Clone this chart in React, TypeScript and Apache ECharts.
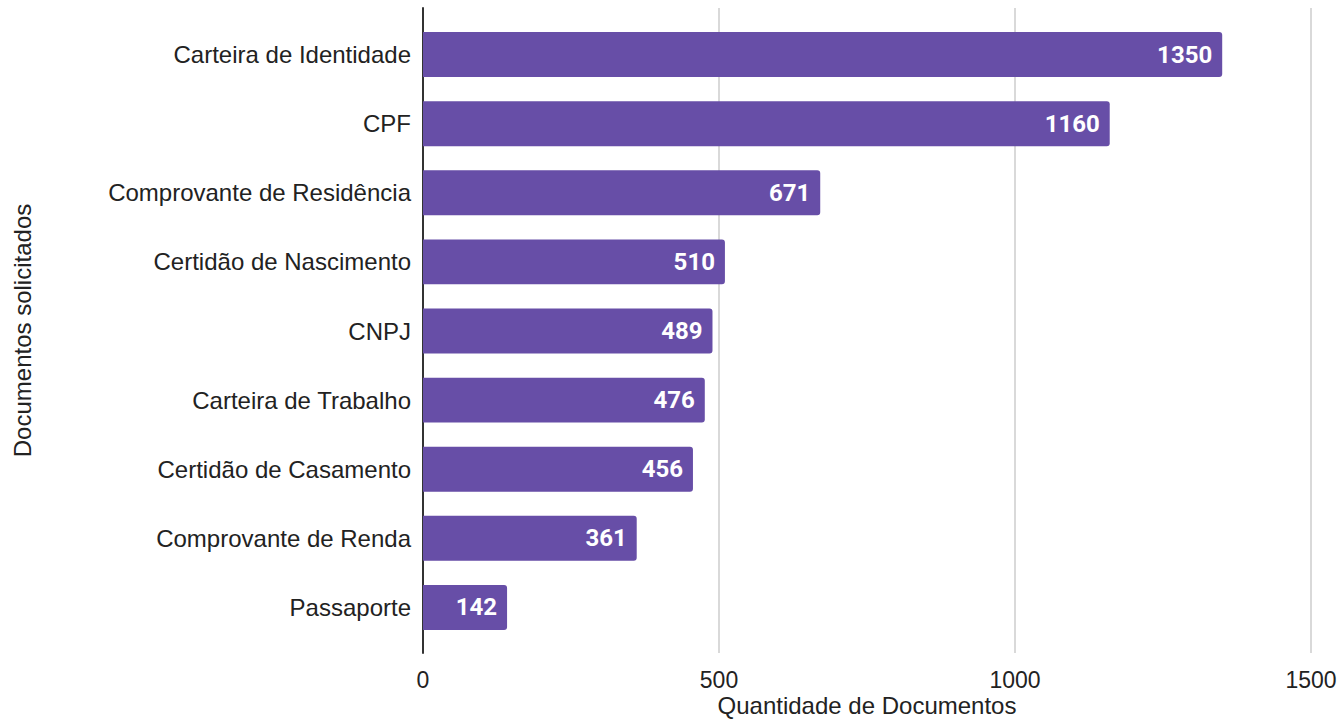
import React, { useEffect, useRef } from "react";
import * as echarts from "echarts";

const categories = [
  "Carteira de Identidade",
  "CPF",
  "Comprovante de Residência",
  "Certidão de Nascimento",
  "CNPJ",
  "Carteira de Trabalho",
  "Certidão de Casamento",
  "Comprovante de Renda",
  "Passaporte",
];
const values = [1350, 1160, 671, 510, 489, 476, 456, 361, 142];
const xTicks = { min: 0, max: 1500, interval: 500 };
const xAxisTitle = "Quantidade de Documentos";
const yAxisTitle = "Documentos solicitados";

export default function App() {
  const ref = useRef<HTMLDivElement>(null);
  useEffect(() => {
    if (!ref.current) return;
    const chart = echarts.init(ref.current, null, { renderer: "svg" });
    const font = "'Liberation Sans', Arial, sans-serif";
    chart.setOption({
      animation: false,
      grid: [
        { left: 423, right: 29, top: 8, bottom: 66, outerBoundsMode: "none", containLabel: false },
        { left: 423, right: 29, top: 20, bottom: 77, outerBoundsMode: "none", containLabel: false },
      ],
      xAxis: [
        {
          gridIndex: 0,
          type: "value",
          min: xTicks.min,
          max: xTicks.max,
          interval: xTicks.interval,
          axisLine: { show: false },
          axisTick: { show: false },
          splitLine: { show: true, lineStyle: { color: "#cccccc", width: 1.5 } },
          axisLabel: {
            color: "#222",
            fontSize: 23,
            fontFamily: font,
            margin: 15,
            formatter: (v: number) => String(v),
          },
          name: xAxisTitle,
          nameLocation: "middle",
          nameGap: 40,
          nameMoveOverlap: false,
          nameTextStyle: { color: "#222", fontSize: 24, lineHeight: 24, fontFamily: font },
        },
        {
          gridIndex: 1,
          type: "value",
          min: xTicks.min,
          max: xTicks.max,
          interval: xTicks.interval,
          show: false,
        },
      ],
      yAxis: [
        {
          gridIndex: 0,
          type: "value",
          min: 0,
          max: 1,
          axisLine: { show: true, onZero: false, lineStyle: { color: "#333", width: 2 } },
          axisTick: { show: false },
          axisLabel: { show: false },
          splitLine: { show: false },
          name: yAxisTitle,
          nameLocation: "middle",
          nameGap: 389,
          nameRotate: 90,
          nameTextStyle: { color: "#222", fontSize: 24, fontFamily: font },
        },
        {
          gridIndex: 1,
          type: "category",
          inverse: true,
          data: categories,
          axisLine: { show: false },
          axisTick: { show: false },
          axisLabel: { color: "#222", fontSize: 24, fontFamily: font, margin: 12 },
        },
      ],
      series: [
        {
          type: "bar",
          xAxisIndex: 1,
          yAxisIndex: 1,
          data: values,
          barCategoryGap: "35%",
          itemStyle: { color: "#674ea7", borderRadius: [0, 3, 3, 0] },
          label: {
            show: true,
            position: "insideRight",
            distance: 10,
            color: "#ffffff",
            fontSize: 24,
            fontWeight: "bold",
            fontFamily: "Roboto, 'Open Sans', sans-serif",
          },
        },
      ],
    });
    return () => chart.dispose();
  }, []);
  return <div ref={ref} style={{ width: 1340, height: 719, position: "absolute", left: 0, top: 0 }} />;
}
